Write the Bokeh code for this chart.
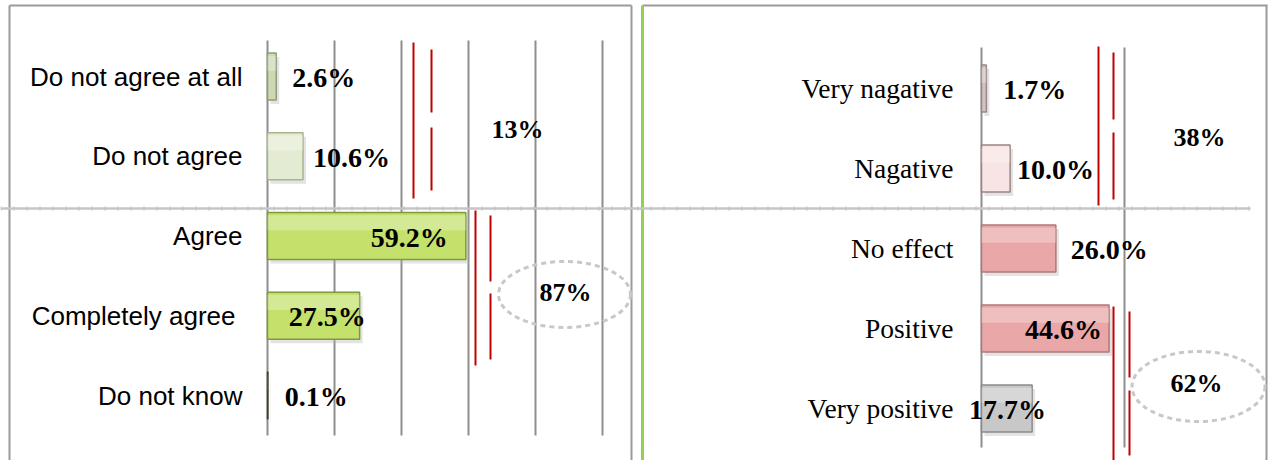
from bokeh.plotting import figure
from bokeh.models import Range1d, ColumnDataSource
from bokeh.core.properties import value
from bokeh.embed import file_html
from bokeh.resources import INLINE

# ---------------- data ----------------
left_categories = ["Do not agree at all", "Do not agree", "Agree", "Completely agree", "Do not know"]
left_values = [2.6, 10.6, 59.2, 27.5, 0.1]
left_groups = [[0, 1], [2, 3]]
left_group_totals = [13, 87]
left_ticks = [0, 20, 40, 60, 80, 100]

right_categories = ["Very nagative", "Nagative", "No effect", "Positive", "Very positive"]
right_values = [1.7, 10.0, 26.0, 44.6, 17.7]
right_groups = [[0, 1, 2], [3, 4]]
right_group_totals = [38, 62]
right_ticks = [0, 50]

# ---------------- styles ----------------
left_fill = ["#ccd9b2", "#e3ecd2", "#c4e16c", "#c4e16c", "#56612e"]
left_line = ["#8f9c78", "#a6b590", "#7f9a3a", "#7f9a3a", "#3a4220"]
right_fill = ["#d2c3c3", "#f8e4e4", "#e9a7a7", "#e9a7a7", "#c8c8c8"]
right_line = ["#9a8888", "#9c8484", "#b07878", "#b07878", "#8a8a8a"]
left_lab_off = [16, 10, -18, 6, 17]
left_lab_align = ["left", "left", "right", "right", "left"]
right_lab_off = [17, 7, 15, -7, 14]
right_lab_align = ["left", "left", "left", "right", "right"]
left_cat_off = [0, 0, 0, -7, 0]

# ---------------- layout (window px) ----------------
M = 0
W, H = 1269, 460
X0_L, PX_L = 267, 3.35      # left panel: 0 % position, px per %
X0_R, PX_R = 981, 2.86      # right panel
ROW0_L, PITCH_L = 76, 79.75
ROW0_R, PITCH_R = 88, 80.0
BAR_H = 0.59


def lx(px): return (px - X0_L) / PX_L
def ly(py): return (py - ROW0_L) / PITCH_L
def rx(px): return (px - X0_R) / PX_R
def ry(py): return (py - ROW0_R) / PITCH_R


p = figure(width=W, height=H,
           x_range=Range1d(lx(M), lx(M + W)),
           y_range=Range1d(ly(M + H), ly(M)),
           output_backend="svg", toolbar_location=None,
           x_axis_location=None, y_axis_location=None,
           min_border=0, outline_line_color=None,
           background_fill_color="white", border_fill_color="white")
p.extra_x_ranges = {"R": Range1d(rx(M), rx(M + W))}
p.extra_y_ranges = {"RY": Range1d(ry(M + H), ry(M))}
p.grid.visible = False
RR = dict(x_range_name="R", y_range_name="RY")

GRID = "#8e8e8e"
# panel frames
p.segment(x0=[lx(9), lx(9), lx(631)], y0=[ly(5), ly(5), ly(5)],
          x1=[lx(631), lx(9), lx(631)], y1=[ly(5), ly(460), ly(460)],
          line_color="#9a9a9a", line_width=2)
p.segment(x0=[lx(642)], y0=[ly(5)], x1=[lx(1267)], y1=[ly(5)], line_color="#9a9a9a", line_width=2)
p.segment(x0=[lx(1266)], y0=[ly(5)], x1=[lx(1266)], y1=[ly(460)], line_color="#9a9a9a", line_width=2)
p.segment(x0=[lx(642)], y0=[ly(5)], x1=[lx(642)], y1=[ly(460)], line_color="#92d050", line_width=3)

# gridlines
p.segment(x0=left_ticks, y0=ly(40), x1=left_ticks, y1=ly(435), line_color=GRID, line_width=2)
p.segment(x0=right_ticks, y0=ry(47), x1=right_ticks, y1=ry(447), line_color=GRID, line_width=2, **RR)

# separator
p.segment(x0=[lx(0)], y0=[ly(208)], x1=[lx(1250)], y1=[ly(208)], line_color="#c6c6c6", line_width=2.5)
p.segment(x0=[lx(0)], y0=[ly(208)], x1=[lx(1250)], y1=[ly(208)], line_color="#b8b8b8",
          line_width=5, line_dash="1 12", line_alpha=0.6)

# bars
def bars(vals, fills, lines, xs_scale, ys_scale, extra):
    rows = list(range(len(vals)))
    src = ColumnDataSource(dict(y=rows, right=vals, fill=fills, line=lines))
    sh = ColumnDataSource(dict(y=[r + 4 / ys_scale for r in rows],
                               left=[3 / xs_scale] * len(vals),
                               right=[v + 3 / xs_scale for v in vals]))
    p.hbar(y="y", left="left", right="right", height=BAR_H, source=sh,
           fill_color="#b0b0b0", fill_alpha=0.35, line_color=None, **extra)
    p.hbar(y="y", left=0, right="right", height=BAR_H, source=src,
           fill_color="fill", line_color="line", line_width=1.5, **extra)
    hl = ColumnDataSource(dict(y=[r - BAR_H * 0.28 for r in rows], right=vals))
    p.hbar(y="y", left=0, right="right", height=BAR_H * 0.32, source=hl,
           fill_color="white", fill_alpha=0.28, line_color=None, **extra)
    return rows

lrows = bars(left_values, left_fill, left_line, PX_L, PITCH_L, {})
rrows = bars(right_values, right_fill, right_line, PX_R, PITCH_R, RR)

VAL_FONT = value("Liberation Serif")
# value labels
p.text(x=left_values, y=lrows, text=[f"{v:.1f}%" for v in left_values],
       x_offset=left_lab_off, text_align=left_lab_align, y_offset=1,
       text_baseline="middle", text_font=VAL_FONT, text_font_style="bold",
       text_font_size="28px", text_color="black")
p.text(x=right_values, y=rrows, text=[f"{v:.1f}%" for v in right_values],
       x_offset=right_lab_off, text_align=right_lab_align, y_offset=1,
       text_baseline="middle", text_font=VAL_FONT, text_font_style="bold",
       text_font_size="28px", text_color="black", **RR)

# category labels
p.text(x=[lx(242)] * 5, y=lrows, text=left_categories, text_align="right",
       x_offset=left_cat_off,
       text_baseline="middle", text_font=value("Liberation Sans"),
       text_font_size="26px", text_color="black")
p.text(x=[rx(953)] * 5, y=rrows, text=right_categories, text_align="right",
       text_baseline="middle", text_font=value("Liberation Serif"),
       text_font_size="27.5px", text_color="black", **RR)

# group brackets (red)
RED = "#c00000"
red_px = [
    (413, 42, 198), (431, 49, 112), (431, 127, 190),
    (475, 210, 365), (490, 215, 281), (490, 293, 359),
    (1098, 46, 205), (1113, 52, 119), (1113, 132, 199),
    (1113, 306, 460), (1129, 311, 377), (1129, 390, 455),
]
p.segment(x0=[lx(a) for a, b, c in red_px], y0=[ly(b) for a, b, c in red_px],
          x1=[lx(a) for a, b, c in red_px], y1=[ly(c) for a, b, c in red_px],
          line_color=RED, line_width=2)

# group totals
lg_pos = [(517, 129), (565, 292)]
rg_pos = [(1199, 137), (1196, 383)]
p.ellipse(x=[lx(564)], y=[ly(294)], width=132, height=66,
          width_units="screen", height_units="screen",
          fill_color=None, line_color="#c8c8c8", line_width=3, line_dash="5 4")
p.ellipse(x=[lx(1198)], y=[ly(386)], width=133, height=70,
          width_units="screen", height_units="screen",
          fill_color=None, line_color="#c8c8c8", line_width=3, line_dash="5 4")
p.text(x=[lx(a) for a, b in lg_pos], y=[ly(b) for a, b in lg_pos],
       text=[f"{t}%" for t in left_group_totals], text_align="center",
       text_baseline="middle", text_font=VAL_FONT, text_font_style="bold",
       text_font_size="26px", text_color="black")
p.text(x=[lx(a) for a, b in rg_pos], y=[ly(b) for a, b in rg_pos],
       text=[f"{t}%" for t in right_group_totals], text_align="center",
       text_baseline="middle", text_font=VAL_FONT, text_font_style="bold",
       text_font_size="26px", text_color="black")

open("out.html", "w").write(file_html(p, INLINE))
